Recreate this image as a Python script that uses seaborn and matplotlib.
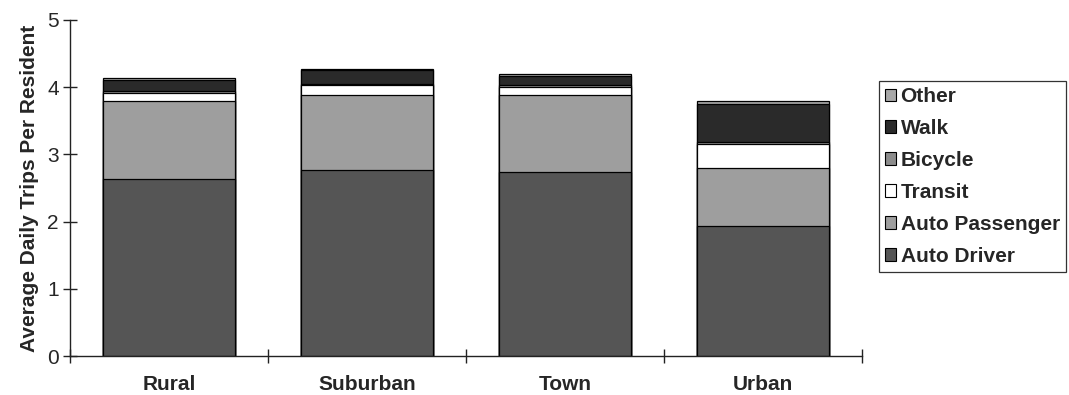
import numpy as np
import pandas as pd
import matplotlib
matplotlib.use("Agg")
import matplotlib.pyplot as plt
import seaborn as sns

### data

areas = ['Rural', 'Suburban', 'Town', 'Urban']
modes = ['Auto Driver', 'Auto Passenger', 'Transit', 'Bicycle', 'Walk', 'Other']
auto_driver = [2.63, 2.77, 2.74, 1.94]
auto_passenger = [1.17, 1.12, 1.14, 0.86]
transit = [0.12, 0.14, 0.12, 0.35]
bicycle = [0.03, 0.02, 0.04, 0.03]
walk = [0.15, 0.20, 0.13, 0.57]
other = [0.03, 0.02, 0.03, 0.04]
mode_colors = ['#555555', '#9e9e9e', '#ffffff', '#8c8c8c', '#2a2a2a', '#a8a8a8']

sns.set_style('white')
plt.rcParams['font.family'] = ['Liberation Sans', 'DejaVu Sans']

df = pd.DataFrame({'Area': areas,
                   'Auto Driver': auto_driver,
                   'Auto Passenger': auto_passenger,
                   'Transit': transit,
                   'Bicycle': bicycle,
                   'Walk': walk,
                   'Other': other})
# running totals, so each layer is drawn from 0 up to its top
cum = df[modes].cumsum(axis=1)
cum['Area'] = df['Area']

fig = plt.figure(figsize=(10.69, 3.95), dpi=100)
ax = fig.add_axes([0.0655, 0.0987, 0.7409, 0.8507])

# biggest stack first, smaller ones painted over it
for mode, col in reversed(list(zip(modes, mode_colors))):
    sns.barplot(data=cum, x='Area', y=mode, color=col, width=0.67,
                edgecolor='black', linewidth=0.9, saturation=1,
                label=mode, ax=ax)

h, l = ax.get_legend_handles_labels()
if ax.get_legend() is not None:
    ax.get_legend().remove()

ax.set_xlim(-0.5, 3.5)
ax.set_ylim(0, 5)
ax.set_yticks([0, 1, 2, 3, 4, 5])
ax.set_xlabel('')
ax.set_ylabel('Average Daily Trips Per Resident', fontsize=15, fontweight='bold', labelpad=6)
sns.despine(ax=ax)
for s in ['left', 'bottom']:
    ax.spines[s].set_color('#222222')
    ax.spines[s].set_linewidth(1.0)

ax.set_xticks([0, 1, 2, 3])
ax.set_xticklabels(areas, fontsize=15, fontweight='bold')
ax.set_xticks([-0.5, 0.5, 1.5, 2.5, 3.5], minor=True)
ax.tick_params(axis='x', which='major', bottom=True, length=0, pad=14)
ax.tick_params(axis='x', which='minor', bottom=True, direction='inout', length=10,
               width=1, color='#222222')
ax.tick_params(axis='y', left=True, direction='inout', length=10, width=1,
               color='#222222', labelsize=15, pad=3)

leg = fig.legend(h, l, loc='upper left', bbox_to_anchor=(0.822, 0.795),
                 bbox_transform=fig.transFigure, frameon=True, fancybox=False,
                 edgecolor='black', borderaxespad=0, borderpad=0.3,
                 handlelength=0.55, handleheight=0.55, handletextpad=0.2,
                 labelspacing=0.62, prop={'size': 15, 'weight': 'bold'})
leg.get_frame().set_linewidth(0.9)
for p in leg.get_patches():
    p.set_linewidth(0.8)

fig.savefig('out.png', dpi=100)
